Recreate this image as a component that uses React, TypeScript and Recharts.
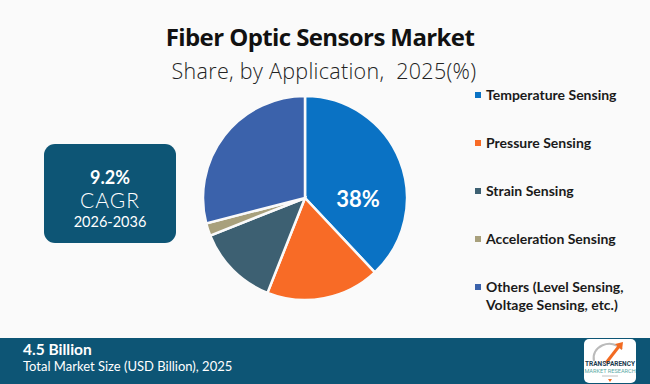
import React from "react";
import { PieChart, Pie, Cell } from "recharts";

const categories = [
  "Temperature Sensing",
  "Pressure Sensing",
  "Strain Sensing",
  "Acceleration Sensing",
  "Others (Level Sensing, Voltage Sensing, etc.)",
];
const shares = [38, 18, 13, 2, 29];
const colors = ["#0A72C4", "#F86B26", "#3D6072", "#A8A07C", "#3B62AB"];

const data = categories.map((name, i) => ({ name, value: shares[i] }));

const NAVY = "#0D5575";

const renderLabel = (props: any) => {
  const { cx, cy, outerRadius, index, value } = props;
  if (index !== 0) return null;
  return (
    <text
      x={cx + outerRadius * 0.52}
      y={cy}
      fill="#fff"
      textAnchor="middle"
      dominantBaseline="central"
      fontFamily="Lato, sans-serif"
      fontWeight={700}
      fontSize={22}
    >
      {`${value}%`}
    </text>
  );
};

const LegendBlock: React.FC = () => (
  <div
    style={{
      position: "absolute",
      left: 475,
      top: 86,
      width: 170,
      fontFamily: "Lato, sans-serif",
      fontWeight: 700,
      fontSize: 14,
      color: "#1a1a1a",
    }}
  >
    {categories.map((name, i) => (
      <div key={i} style={{ display: "flex", alignItems: "flex-start", height: 48, lineHeight: "18px" }}>
        <span
          style={{
            display: "inline-block",
            width: 6,
            height: 6,
            background: colors[i],
            marginTop: 6,
            marginRight: 5,
            flexShrink: 0,
          }}
        />
        <span style={{ width: 150 }}>{name}</span>
      </div>
    ))}
  </div>
);

const App: React.FC = () => {
  return (
    <div
      style={{
        position: "fixed",
        left: 0,
        top: 0,
        width: 650,
        height: 384,
        background: "#FAFAFA",
        overflow: "hidden",
        fontFamily: "Lato, sans-serif",
      }}
    >
      <div
        style={{
          position: "absolute",
          top: 20,
          left: 0,
          width: 640,
          textAlign: "center",
          fontWeight: 700,
          fontSize: 24,
          color: "#111",
          fontFamily: "'Open Sans', sans-serif",
          letterSpacing: -0.6,
        }}
      >
        Fiber Optic Sensors Market
      </div>
      <div
        style={{
          position: "absolute",
          top: 56,
          left: 0,
          width: 648,
          textAlign: "center",
          fontWeight: 300,
          fontSize: 21.5,
          letterSpacing: 0.3,
          color: "#222",
          fontFamily: "'Open Sans', sans-serif",
        }}
      >
        Share, by Application,&nbsp; 2025(%)
      </div>

      <div
        style={{
          position: "absolute",
          left: 44,
          top: 144,
          width: 132,
          height: 99,
          borderRadius: 11,
          background: NAVY,
          color: "#fff",
          textAlign: "center",
        }}
      >
        <div style={{ marginTop: 22, fontWeight: 700, fontSize: 18, lineHeight: "22px" }}>9.2%</div>
        <div style={{ fontWeight: 300, fontSize: 21, letterSpacing: 1, lineHeight: "24px" }}>CAGR</div>
        <div style={{ fontWeight: 400, fontSize: 14.5, lineHeight: "20px" }}>2026-2036</div>
      </div>

      <PieChart
        width={650}
        height={384}
        margin={{ top: 0, right: 0, bottom: 0, left: 0 }}
        style={{ position: "absolute", left: 0, top: 0 }}
      >
        <Pie
          data={data}
          dataKey="value"
          nameKey="name"
          cx={305}
          cy={198}
          outerRadius={102}
          startAngle={90}
          endAngle={-270}
          stroke="#FAFAFA"
          strokeWidth={2.5}
          label={renderLabel}
          labelLine={false}
          isAnimationActive={false}
        >
          {data.map((_, i) => (
            <Cell key={i} fill={colors[i]} />
          ))}
        </Pie>
      </PieChart>

      <LegendBlock />

      <div
        style={{
          position: "absolute",
          left: 0,
          top: 338,
          width: 650,
          height: 46,
          background: NAVY,
          color: "#fff",
        }}
      >
        <div style={{ position: "absolute", left: 23, top: 2, fontWeight: 700, fontSize: 15.5 }}>4.5 Billion</div>
        <div style={{ position: "absolute", left: 23, top: 20, fontWeight: 400, fontSize: 13 }}>
          Total Market Size (USD Billion), 2025
        </div>
        <svg width={52} height={44} style={{ position: "absolute", left: 584, top: 1 }}>
          <rect x={0} y={0} width={52} height={44} rx={5} fill="#fff" />
          <path d="M10 22 A16 14 0 0 1 38 10" stroke="#bbb" strokeWidth={2} fill="none" />
          <path d="M22 24 L36 6" stroke="#F26B22" strokeWidth={3} />
          <path d="M31 5 L39 3 L38 11 Z" fill="#F26B22" />
          <text x={26} y={27} textAnchor="middle" fontSize={6.5} fontWeight={700} fill="#1d3b4f" fontFamily="Roboto, sans-serif">
            TRANSPARENCY
          </text>
          <text x={26} y={34} textAnchor="middle" fontSize={5.6} fill="#5aa9a4" fontFamily="Roboto, sans-serif">
            MARKET RESEARCH
          </text>
          <path d="M18 37 L34 37" stroke="#999" strokeWidth={0.6} />
          <path d="M24 40 L28 40 L26 43 Z" fill="#F26B22" />
        </svg>
      </div>
    </div>
  );
};

export default App;
